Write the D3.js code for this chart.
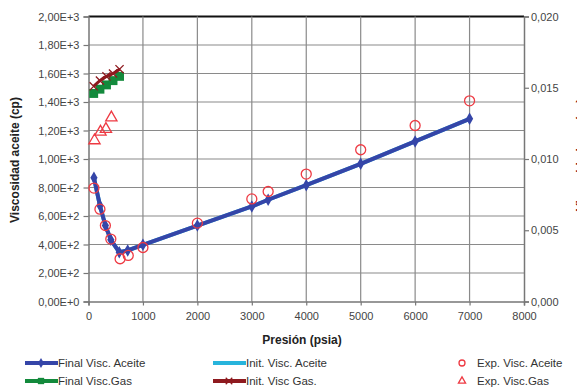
<!DOCTYPE html>
<html><head><meta charset="utf-8">
<script src="https://cdn.jsdelivr.net/npm/d3@7"></script>
<style>body{margin:0;background:#fff}svg{display:block;font-family:"Liberation Sans",Arial,sans-serif}</style>
</head><body><svg id="c" width="577" height="388"></svg>
<script>
// Oil viscosity (left axis, cp)
const oilPressure = [100, 210, 310, 410, 565, 720, 1000, 2000, 3000, 3300, 4000, 5000, 6000, 7000];
const finalOil    = [868, 674, 533, 433, 346, 358, 398, 533, 667, 714, 816, 966, 1123, 1282];
const initOil     = [868, 674, 533, 433, 346, 358, 398, 533, 667, 714, 816, 966, 1123, 1282];
const expOilPressure = [100, 210, 310, 410, 580, 730, 1000, 2000, 3000, 3300, 4000, 5000, 6000, 7000];
const expOil      = [796, 648, 533, 438, 300, 323, 379, 550, 720, 772, 894, 1065, 1235, 1408];
// Gas viscosity (right axis, cp)
const gasPressure = [95, 210, 330, 450, 570];
const finalGas    = [0.0146, 0.0149, 0.0152, 0.0155, 0.0158];
const initGas     = [0.0151, 0.0155, 0.0158, 0.0160, 0.0163];
const expGasPressure = [110, 220, 320, 420];
const expGas      = [0.0113, 0.0119, 0.0121, 0.0129];
// Ticks
const xTicks = [0,1000,2000,3000,4000,5000,6000,7000,8000];
const yTicks = [0,200,400,600,800,1000,1200,1400,1600,1800,2000];
const yTickLabels = ["0,00E+0","2,00E+2","4,00E+2","6,00E+2","8,00E+2","1,00E+3","1,20E+3","1,40E+3","1,60E+3","1,80E+3","2,00E+3"];
const y2Ticks = [0,0.005,0.010,0.015,0.020];
const y2TickLabels = ["0,000","0,005","0,010","0,015","0,020"];
const legendItems = ["Final Visc. Aceite","Init. Visc. Aceite","Exp.  Visc. Aceite","Final  Visc.Gas","Init.  Visc Gas.","Exp. Visc.Gas"];

const svg = d3.select("#c");
const L=88.5, R=524, T=16.5, B=301.5;
const x = d3.scaleLinear().domain([0,8000]).range([L,R]);
const y = d3.scaleLinear().domain([0,2000]).range([B,T]);
const y2 = d3.scaleLinear().domain([0,0.020]).range([B,T]);

const gridCol="#8a8a8a", axisCol="#777";
// grid
svg.append("g").selectAll("line").data(yTicks.slice(1)).join("line")
  .attr("x1",L).attr("x2",R).attr("y1",d=>y(d)).attr("y2",d=>y(d))
  .attr("stroke",d=>d===2000?"#111":gridCol).attr("stroke-width",d=>d===2000?2:1.2);
svg.append("g").selectAll("line").data(xTicks.slice(1,-1)).join("line")
  .attr("x1",d=>x(d)).attr("x2",d=>x(d)).attr("y1",T).attr("y2",B)
  .attr("stroke",gridCol).attr("stroke-width",1.2);

// axes
const fs = "11px";
const gx = svg.append("g").attr("transform",`translate(0,${B})`)
  .call(d3.axisBottom(x).tickValues(xTicks).tickSize(4).tickFormat(d3.format("d")));
const gy = svg.append("g").attr("transform",`translate(${L},0)`)
  .call(d3.axisLeft(y).tickValues(yTicks).tickSize(5).tickFormat((d,i)=>yTickLabels[i]));
const gy2 = svg.append("g").attr("transform",`translate(${R},0)`)
  .call(d3.axisRight(y2).tickValues(y2Ticks).tickSize(5).tickFormat((d,i)=>y2TickLabels[i]));
[gx,gy,gy2].forEach(g=>{
  g.select(".domain").attr("stroke",axisCol).attr("stroke-width",1.5);
  g.selectAll(".tick line").attr("stroke",axisCol).attr("stroke-width",1.2);
  g.selectAll("text").attr("fill","#444").style("font-size",fs).style("font-family","Liberation Sans, Arial, sans-serif");
});
gx.selectAll("text").attr("dy","1.05em");
gy.selectAll("text").attr("x",-9);
gy2.selectAll("text").attr("x",7);

// axis titles
svg.append("text").attr("x",302).attr("y",344).attr("text-anchor","middle")
  .style("font-size","12px").style("font-weight","bold").attr("fill","#222").text("Presión  (psia)");
svg.append("text").attr("transform","translate(19,160) rotate(-90)").attr("text-anchor","middle")
  .style("font-size","12px").style("font-weight","bold").attr("fill","#222").text("Viscosidad aceite (cp)");
svg.append("text").attr("transform","translate(585,155) rotate(-90)").attr("text-anchor","middle")
  .style("font-size","12px").style("font-weight","bold").attr("fill","#8b1a1a").text("Viscosidad gas (cp)");

const blue="#3545a8", cyan="#27b4dc", green="#138a3c", maroon="#8e1a1f", red="#ee3a43";
const diamond = d3.symbol().type(d3.symbolDiamond).size(45);
const square = d3.symbol().type(d3.symbolSquare).size(80);
const tri = d3.symbol().type(d3.symbolTriangle).size(55);
const cross = d3.symbol().type(d3.symbolX).size(45);

// init oil (under)
const lineOil = d3.line().x(d=>x(d[0])).y(d=>y(d[1]));
svg.append("path").datum(oilPressure.map((p,i)=>[p,initOil[i]])).attr("d",lineOil)
  .attr("fill","none").attr("stroke",cyan).attr("stroke-width",4);
// final oil
svg.append("path").datum(oilPressure.map((p,i)=>[p,finalOil[i]])).attr("d",lineOil)
  .attr("fill","none").attr("stroke",blue).attr("stroke-width",4).attr("stroke-linejoin","round");
svg.append("g").selectAll("path").data(oilPressure.map((p,i)=>[p,finalOil[i]])).join("path")
  .attr("d",diamond).attr("transform",d=>`translate(${x(d[0])},${y(d[1])})`).attr("fill",blue);

// final gas
const lineGas = d3.line().x(d=>x(d[0])).y(d=>y2(d[1]));
const fg = gasPressure.map((p,i)=>[p,finalGas[i]]);
svg.append("path").datum(fg).attr("d",lineGas).attr("fill","none").attr("stroke",green).attr("stroke-width",4);
svg.append("g").selectAll("path").data(fg).join("path")
  .attr("d",square).attr("transform",d=>`translate(${x(d[0])},${y2(d[1])})`).attr("fill",green);
// init gas
const ig = gasPressure.map((p,i)=>[p,initGas[i]]);
svg.append("path").datum(ig).attr("d",lineGas.curve(d3.curveMonotoneX)).attr("fill","none").attr("stroke",maroon).attr("stroke-width",3);
svg.append("g").selectAll("path").data(ig).join("path")
  .attr("d",cross).attr("transform",d=>`translate(${x(d[0])},${y2(d[1])})`).attr("stroke",maroon).attr("stroke-width",1.3).attr("fill","none");

// exp oil circles
svg.append("g").selectAll("circle").data(expOilPressure.map((p,i)=>[p,expOil[i]])).join("circle")
  .attr("cx",d=>x(d[0])).attr("cy",d=>y(d[1])).attr("r",5)
  .attr("fill","none").attr("stroke",red).attr("stroke-width",1.3);
// exp gas triangles
svg.append("g").selectAll("path").data(expGasPressure.map((p,i)=>[p,expGas[i]])).join("path")
  .attr("d",tri).attr("transform",d=>`translate(${x(d[0])},${y2(d[1])})`)
  .attr("fill","none").attr("stroke",red).attr("stroke-width",1.3);

// legend
const leg = svg.append("g").style("font-size","11.5px").attr("fill","#333");
function lineKey(x0,yy,col,sym,symFill){
  leg.append("line").attr("x1",x0).attr("x2",x0+33).attr("y1",yy).attr("y2",yy).attr("stroke",col).attr("stroke-width",4);
  if(sym) leg.append("path").attr("d",sym).attr("transform",`translate(${x0+16},${yy})`)
    .attr("fill",symFill?col:"none").attr("stroke",symFill?"none":col).attr("stroke-width",1.2);
}
const r1=363, r2=381;
lineKey(25,r1,blue,d3.symbol().type(d3.symbolDiamond).size(30)(),true);
leg.append("text").attr("x",58).attr("y",r1+4).text(legendItems[0]);
lineKey(213,r1,cyan,null,true);
leg.append("text").attr("x",246).attr("y",r1+4).text(legendItems[1]);
leg.append("circle").attr("cx",462).attr("cy",r1).attr("r",3).attr("fill","none").attr("stroke",red).attr("stroke-width",1.3);
leg.append("text").attr("x",477).attr("y",r1+4).text(legendItems[2]);
lineKey(25,r2,green,d3.symbol().type(d3.symbolSquare).size(40)(),true);
leg.append("text").attr("x",58).attr("y",r2+4).text(legendItems[3]);
lineKey(213,r2,maroon,d3.symbol().type(d3.symbolX).size(30)(),false);
leg.append("text").attr("x",246).attr("y",r2+4).text(legendItems[4]);
leg.append("path").attr("d",d3.symbol().type(d3.symbolTriangle).size(22)()).attr("transform",`translate(462,${r2})`)
  .attr("fill","none").attr("stroke",red).attr("stroke-width",1.3);
leg.append("text").attr("x",477).attr("y",r2+4).text(legendItems[5]);
</script></body></html>
